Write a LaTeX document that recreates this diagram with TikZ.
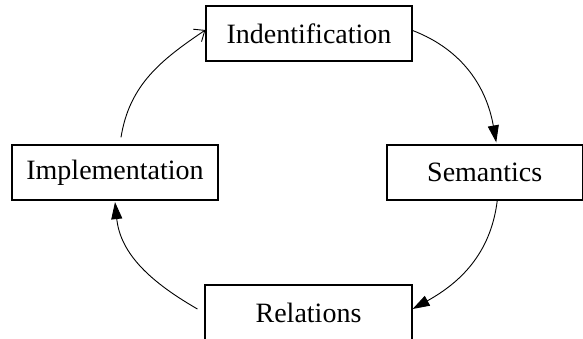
\documentclass[tikz,border=0pt]{standalone}
\usepackage{fontspec}
\setmainfont{Liberation Serif}
\usetikzlibrary{arrows.meta,calc}

\tikzset{
  stage/.style={draw, line width=1.2pt, minimum height=55pt, inner sep=0pt,
                font=\fontsize{28}{33}\selectfont},
  flow/.style={line width=0.9pt, -{Triangle[length=17pt,width=11pt]}},
  openflow/.style={line width=0.9pt, -{Straight Barb[length=9pt,width=15pt,line width=0.9pt]}}
}

\begin{document}
\begin{tikzpicture}[x=1pt,y=1pt]
  \useasboundingbox (0,0) rectangle (583,339);

  % the four stages of the cycle
  \node[stage, minimum width=206pt] (ind) at (309,305.5) {Indentification};
  \node[stage, minimum width=195.5pt] (sem) at (484.75,166.5) {Semantics};
  \node[stage, minimum width=207pt] (rel) at (308.5,26.5) {Relations};
  \node[stage, minimum width=206pt] (imp) at (115,166.5) {Implementation};

  % arcs that join the stages clockwise
  \draw[flow] ([yshift=3pt]ind.east) to[out=-21, in=100] ([xshift=11.5pt,yshift=2pt]sem.north);
  \draw[flow] ([xshift=12.5pt]sem.south) to[out=-97, in=29] ([yshift=3.5pt]rel.east);
  \draw[flow] ([xshift=-7pt,yshift=3.5pt]rel.west) to[out=150, in=-84] ([yshift=-1.5pt]imp.south);
  \draw[openflow] ([xshift=6pt,yshift=7pt]imp.north) to[out=81, in=-146] ([yshift=3.5pt]ind.west);
\end{tikzpicture}
\end{document}
